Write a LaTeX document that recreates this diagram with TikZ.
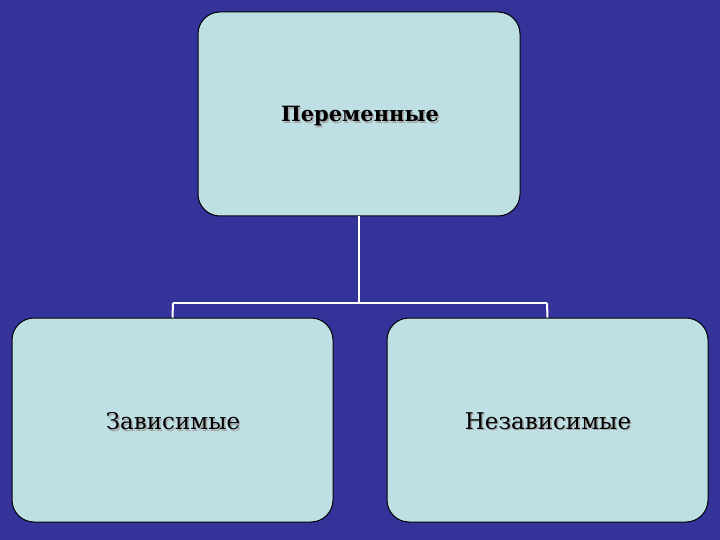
\documentclass[tikz,border=0pt]{standalone}
\usepackage{fontspec}
\setmainfont{DejaVu Serif}
\newfontfamily\tms{DejaVu Serif}
\definecolor{bg}{HTML}{333399}
\definecolor{boxc}{HTML}{BEE0E4}
\newcommand{\shd}[1]{\makebox[0pt][l]{\raisebox{-1.5pt}{\hspace{1.5pt}\textcolor{gray!70}{#1}}}#1}
\begin{document}
\begin{tikzpicture}[x=1pt,y=-1pt,
  box/.style={draw=black,line width=1pt,fill=boxc,rounded corners=22pt,minimum width=#1,minimum height=204pt,inner sep=0pt},
  lbl/.style={font=\tms\fontsize{23}{28}\selectfont},
  conn/.style={draw=white,line width=2pt}]
\fill[bg] (0,0) rectangle (720,540);
\useasboundingbox (0,0) rectangle (720,540);
\node[box=322pt] (top) at (359,114) {};
\node[box=321pt] (left) at (172.5,420) {};
\node[box=321pt] (right) at (547.5,420) {};
\coordinate (j) at (359,303);
\coordinate (lj) at (173,303);
\coordinate (rj) at (547,303);
\draw[conn] (top.south) -- (j) (lj) -- (rj);
\draw[conn] (lj) -- (left.north) (rj) -- (right.north);
\node[lbl,font=\tms\fontsize{21}{26}\selectfont\bfseries] (t1) at (360,117) {\shd{Переменные}};
\node[lbl] (t2) at (173,422) {\shd{Зависимые}};
\node[lbl] (t3) at (548,422) {\shd{Независимые}};
\end{tikzpicture}
\end{document}
